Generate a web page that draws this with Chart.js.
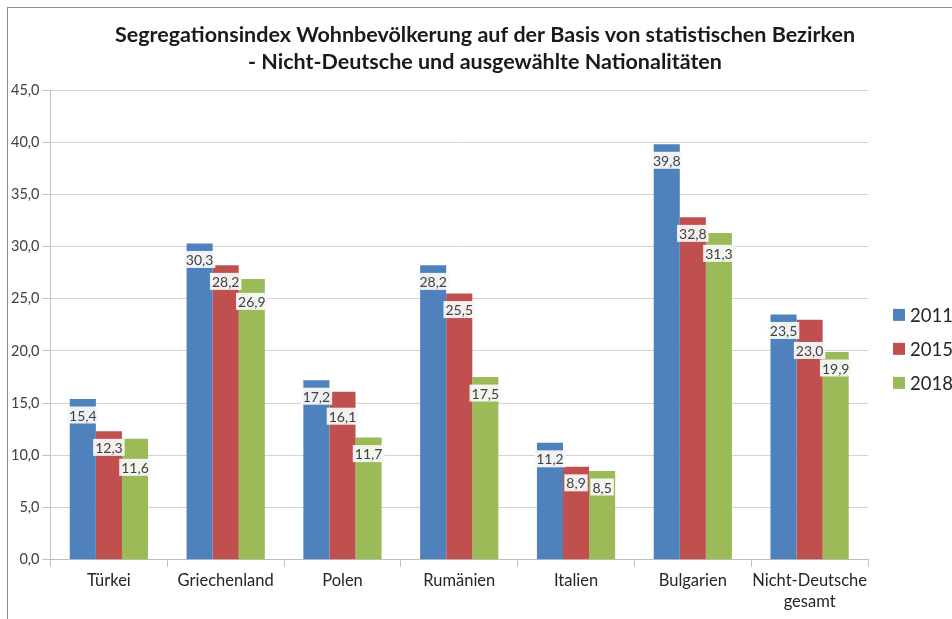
<!DOCTYPE html>
<html lang="de">
<head>
<meta charset="utf-8">
<title>Segregationsindex</title>
<script src="https://cdn.jsdelivr.net/npm/chart.js@4.4.1/dist/chart.umd.min.js"></script>
<style>
    html, body { margin: 0; padding: 0; background: #ffffff; }
    #rahmen {
        position: absolute; left: 7px; top: 7px;
        width: 945px; height: 612px;
        border-left: 1px solid #8c8c8c; border-top: 1px solid #8c8c8c;
    }
    #grafik { display: block; }
</style>
</head>
<body>
<div id="rahmen"><canvas id="grafik" width="944" height="611"></canvas></div>
<script>
/* Daten */
const kategorien = ['Türkei', 'Griechenland', 'Polen', 'Rumänien', 'Italien', 'Bulgarien', ['Nicht-Deutsche', 'gesamt']];
const werte2011 = [15.4, 30.3, 17.2, 28.2, 11.2, 39.8, 23.5];
const werte2015 = [12.3, 28.2, 16.1, 25.5, 8.9, 32.8, 23.0];
const werte2018 = [11.6, 26.9, 11.7, 17.5, 8.5, 31.3, 19.9];
const jahre = ['2011', '2015', '2018'];
const yTicks = [0, 5, 10, 15, 20, 25, 30, 35, 40, 45];
const titelZeilen = ['Segregationsindex Wohnbevölkerung auf der Basis von statistischen Bezirken',
                     '- Nicht-Deutsche und ausgewählte Nationalitäten'];

const farben = ['#4F81BD', '#C0504D', '#9BBB59'];
const schrift = 'Lato, Calibri, "Open Sans", sans-serif';

function formatDe(v) {
    return Number(v).toFixed(1).replace('.', ',');
}

/* Datenbeschriftungen: weiße Kästchen knapp unter der Säulenoberkante */
const beschriftungPlugin = {
    id: 'beschriftung',
    afterDatasetsDraw(chart) {
        const ctx = chart.ctx;
        ctx.save();
        ctx.font = '14px ' + schrift;
        ctx.textAlign = 'center';
        ctx.textBaseline = 'middle';
        const hoehe = 17;
        const anzahl = chart.data.labels.length;
        for (let i = 0; i < anzahl; i++) {
            let vorher = null;
            chart.data.datasets.forEach((ds, d) => {
                const bar = chart.getDatasetMeta(d).data[i];
                const text = formatDe(ds.data[i]);
                const breite = ctx.measureText(text).width + 4;
                let mitte = bar.y + 16;
                if (vorher) {
                    const ueberlapptX = (bar.x - breite / 2) < (vorher.x + vorher.b / 2) - 2;
                    const ueberlapptY = (mitte - hoehe / 2) < (vorher.m + hoehe / 2);
                    if (ueberlapptX && ueberlapptY) mitte = vorher.m + hoehe + 3;
                }
                ctx.fillStyle = 'rgba(248,248,248,0.95)';
                ctx.fillRect(bar.x - breite / 2, mitte - hoehe / 2, breite, hoehe);
                ctx.fillStyle = '#404040';
                ctx.fillText(text, bar.x, mitte + 1);
                vorher = { x: bar.x, b: breite, m: mitte };
            });
        }
        ctx.restore();
    }
};

/* Titel (über die ganze Breite zentriert) und Legende rechts */
const titelLegendePlugin = {
    id: 'titelLegende',
    afterDraw(chart) {
        const ctx = chart.ctx;
        const bereich = chart.chartArea;
        ctx.save();
        ctx.textBaseline = 'middle';

        ctx.textAlign = 'center';
        ctx.fillStyle = '#1a1a1a';
        ctx.font = 'bold 21.5px ' + schrift;
        titelZeilen.forEach((zeile, z) => ctx.fillText(zeile, 477, 27 + z * 27));

        const x = bereich.right + 25;
        const yStart = (bereich.top + bereich.bottom) / 2 - 10;
        ctx.font = '18.5px ' + schrift;
        ctx.textAlign = 'left';
        chart.data.datasets.forEach((ds, d) => {
            const y = yStart + d * 34;
            ctx.fillStyle = ds.backgroundColor;
            ctx.fillRect(x, y - 6, 12, 12);
            ctx.fillStyle = '#262626';
            ctx.fillText(ds.label, x + 17, y + 1);
        });
        ctx.restore();
    }
};

new Chart(document.getElementById('grafik'), {
    type: 'bar',
    data: {
        labels: kategorien,
        datasets: [
            { label: jahre[0], data: werte2011, backgroundColor: farben[0] },
            { label: jahre[1], data: werte2015, backgroundColor: farben[1] },
            { label: jahre[2], data: werte2018, backgroundColor: farben[2] }
        ]
    },
    options: {
        responsive: false,
        animation: false,
        layout: { padding: { left: 0, right: 84, top: 82, bottom: 3 } },
        datasets: { bar: { barPercentage: 1, categoryPercentage: 0.67, borderWidth: 0 } },
        plugins: {
            title: { display: false },
            legend: { display: false },
            tooltip: { enabled: false }
        },
        scales: {
            x: {
                grid: { display: true, drawOnChartArea: false, color: '#bfbfbf', tickLength: 7 },
                border: { color: '#bfbfbf' },
                ticks: { color: '#262626', font: { family: schrift, size: 16.5, lineHeight: 1.25 },
                         padding: 4, maxRotation: 0, minRotation: 0, autoSkip: false }
            },
            y: {
                min: 0, max: 45,
                afterBuildTicks(axis) { axis.ticks = yTicks.map(v => ({ value: v })); },
                grid: { color: '#d4d4d4', tickLength: 8, tickColor: '#bfbfbf' },
                border: { color: '#bfbfbf' },
                ticks: { color: '#404040', font: { family: schrift, size: 14.5 }, padding: 3,
                         callback: v => formatDe(v) }
            }
        }
    },
    plugins: [beschriftungPlugin, titelLegendePlugin]
});
</script>
</body>
</html>
